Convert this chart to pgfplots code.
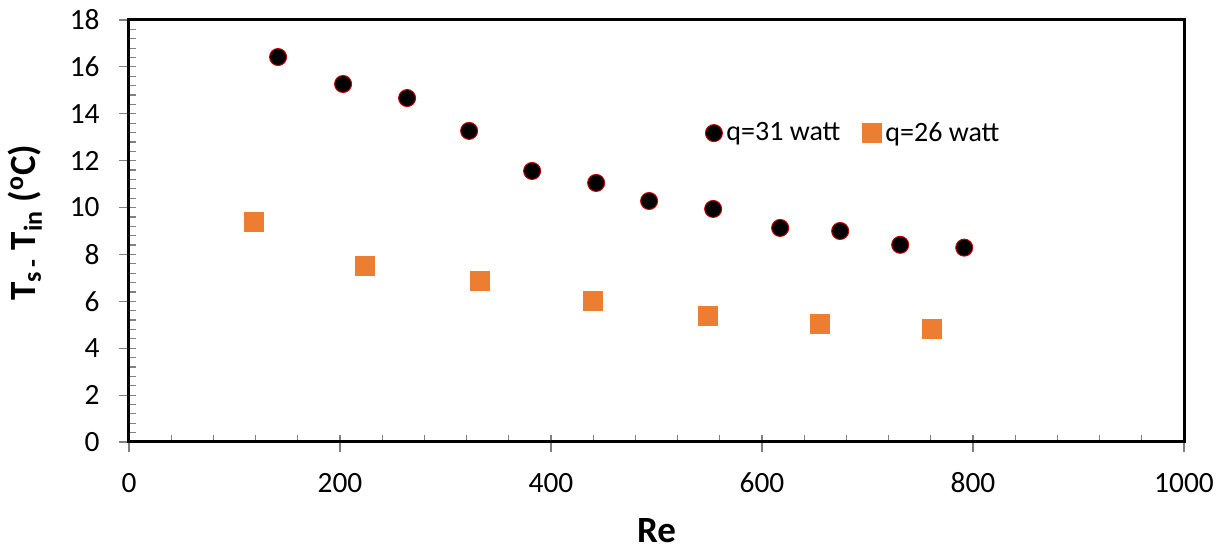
\documentclass[border=0pt]{standalone}
\usepackage{pgfplots}
\pgfplotsset{compat=1.18}
\usepackage{fontspec}
\setmainfont{Carlito}
\definecolor{myorange}{HTML}{ED7D31}
\definecolor{myred}{HTML}{C00000}
\begin{document}
\begin{tikzpicture}
\begin{axis}[
  scale only axis,
  width=527.5pt, height=211pt,
  xmin=0, xmax=1000, ymin=0, ymax=18,
  xtick={0,200,...,1000}, ytick={0,2,...,18},
  minor x tick num=4, minor y tick num=4,
  tick pos=left,
  tick align=inside,
  major tick length=8.5pt,
  minor tick length=3.5pt,
  tick style={draw=gray, line width=0.6pt},
  major x tick style={yshift=-5pt},
  major y tick style={xshift=-5pt},
  axis line style={line width=1.5pt},
  /pgf/number format/assume math mode=true,
  /pgf/number format/1000 sep={},
  ticklabel style={font=\fontsize{14.7}{17}\selectfont},
  xticklabel style={anchor=center, yshift=-20.5pt},
  yticklabel style={anchor=east, inner sep=0pt, xshift=-14.5pt},
  xlabel={\textbf{Re}},
  ylabel={\textbf{T\textsubscript{s\,-} T\textsubscript{in} (\textsuperscript{o}C)}},
  label style={font=\fontsize{18.5}{22}\selectfont},
  xlabel style={at={(axis description cs:0.5,-0.209)}, anchor=center, inner sep=0pt},
  ylabel style={at={(axis description cs:-0.0986,0.52)}, anchor=center},
  legend style={draw=none, fill=none, at={(0.546,0.732)}, anchor=west,
    font=\fontsize{14}{17}\selectfont, legend columns=2,
    /tikz/every even column/.append style={column sep=9pt},
    inner sep=0pt},
  legend image code/.code={\draw[#1] plot coordinates {(0.15cm,0cm)};},
]
\addplot[only marks, mark=*, mark size=4.25pt, draw=myred, fill=black, line width=0.5pt]
  coordinates {
  (141.3,16.42) (202.9,15.27) (263.6,14.67) (322.4,13.27) (382.1,11.56)
  (442.8,11.05) (493,10.28) (553.7,9.94) (617.2,9.13) (674.1,9.0)
  (731,8.41) (791.7,8.29)
  };
\addlegendentry{q=31 watt}
\addplot[only marks, mark=square*, mark size=4.75pt, draw=myorange, fill=myorange]
  coordinates {
  (118.5,9.39) (223.8,7.52) (332.8,6.88) (440,6.03) (549,5.39)
  (655,5.05) (761.4,4.84)
  };
\addlegendentry{q=26 watt}
\coordinate (sw) at (rel axis cs:0,0);
\coordinate (ne) at (rel axis cs:1,1);
\end{axis}
\pgfresetboundingbox
\path[use as bounding box] ([shift={(-64.5pt,-54.15pt)}]sw) rectangle ([shift={(22.5pt,10pt)}]ne);
\end{tikzpicture}
\end{document}
